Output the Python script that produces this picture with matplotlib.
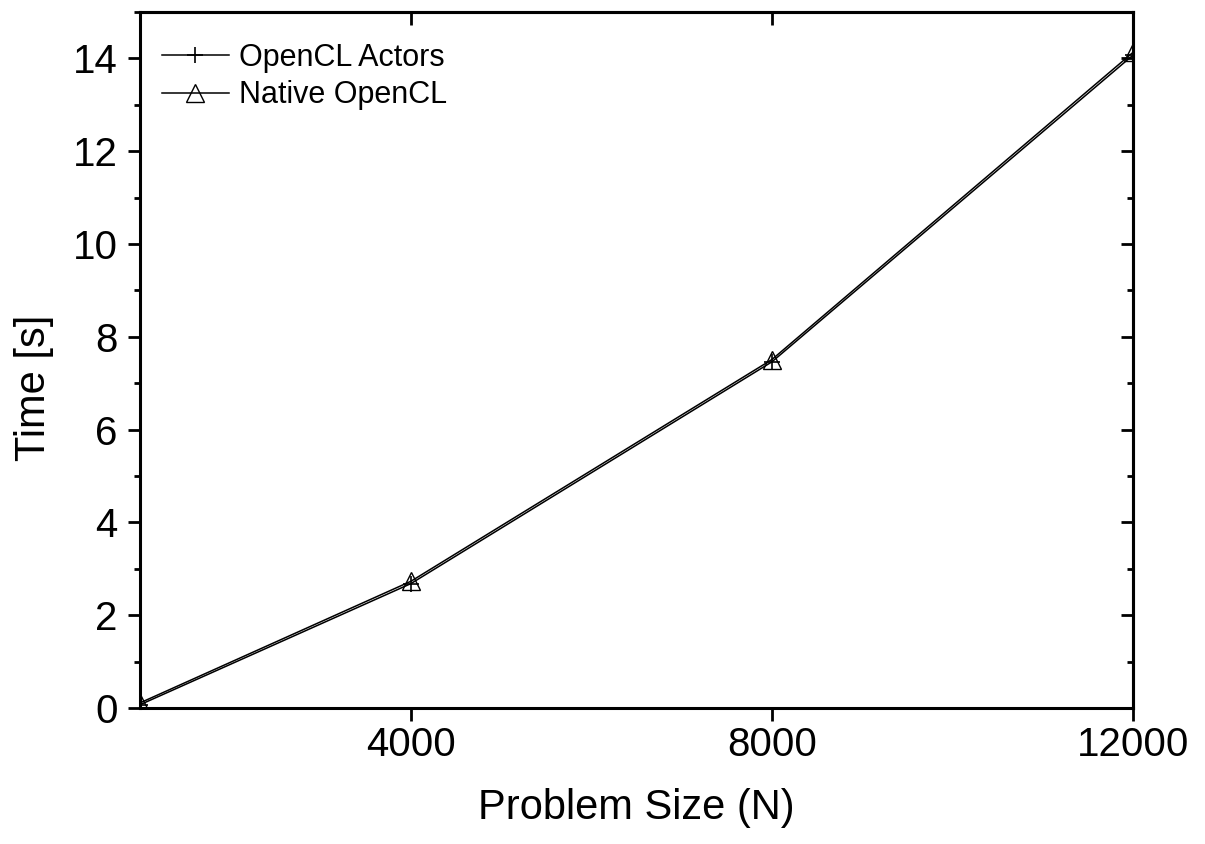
import matplotlib.pyplot as plt
from matplotlib.ticker import MultipleLocator

plt.rcParams['font.family'] = ['Liberation Sans', 'DejaVu Sans']

sizes = [1000, 4000, 8000, 12000]
actors = [0.07, 2.68, 7.46, 14.07]
native = [0.11, 2.73, 7.51, 14.13]

fig = plt.figure(figsize=(12.05, 8.44), dpi=100)
ax = fig.add_axes([140 / 1205, 1 - 708 / 844, (1133 - 140) / 1205, (708 - 12) / 844])

ax.plot(sizes, actors, color="black", lw=1.1, marker="+", ms=11, mew=1.2,
        label="OpenCL Actors")
ax.plot(sizes, native, color="black", lw=1.1, marker="^", ms=13, mew=1.0,
        mfc="none", label="Native OpenCL")

ax.set_xlim(1000, 12000)
ax.set_ylim(0, 15)
ax.set_xticks([4000, 8000, 12000])
ax.yaxis.set_major_locator(MultipleLocator(2))
ax.yaxis.set_minor_locator(MultipleLocator(1))

for s in ax.spines.values():
    s.set_linewidth(2.2)
ax.tick_params(which="both", direction="out", width=2, labelsize=29)
ax.tick_params(which="major", length=9)
ax.tick_params(which="minor", length=4.5)
ax.tick_params(axis="y", pad=7)
ax.tick_params(axis="x", pad=4)

# inward ticks on top and right
top = ax.secondary_xaxis("top")
top.set_xticks([4000, 8000, 12000])
top.tick_params(direction="in", length=9, width=2, labeltop=False)
right = ax.secondary_yaxis("right")
right.yaxis.set_major_locator(MultipleLocator(2))
right.yaxis.set_minor_locator(MultipleLocator(1))
right.tick_params(which="both", direction="in", width=2, labelright=False)
right.tick_params(which="major", length=9)
right.tick_params(which="minor", length=4.5)
for s in list(top.spines.values()) + list(right.spines.values()):
    s.set_linewidth(2.2)

ax.set_xlabel("Problem Size (N)", fontsize=30)
ax.set_ylabel("Time [s]", fontsize=30)
ax.xaxis.set_label_coords(0.5, -0.115)
ax.yaxis.set_label_coords(-0.087, 0.46)

ax.legend(loc="upper left", frameon=False, fontsize=22, handlelength=2.2,
          handletextpad=0.33, labelspacing=0.25, borderpad=0, borderaxespad=0,
          bbox_to_anchor=(0.022, 0.956))

fig.savefig("out.png", dpi=100)
